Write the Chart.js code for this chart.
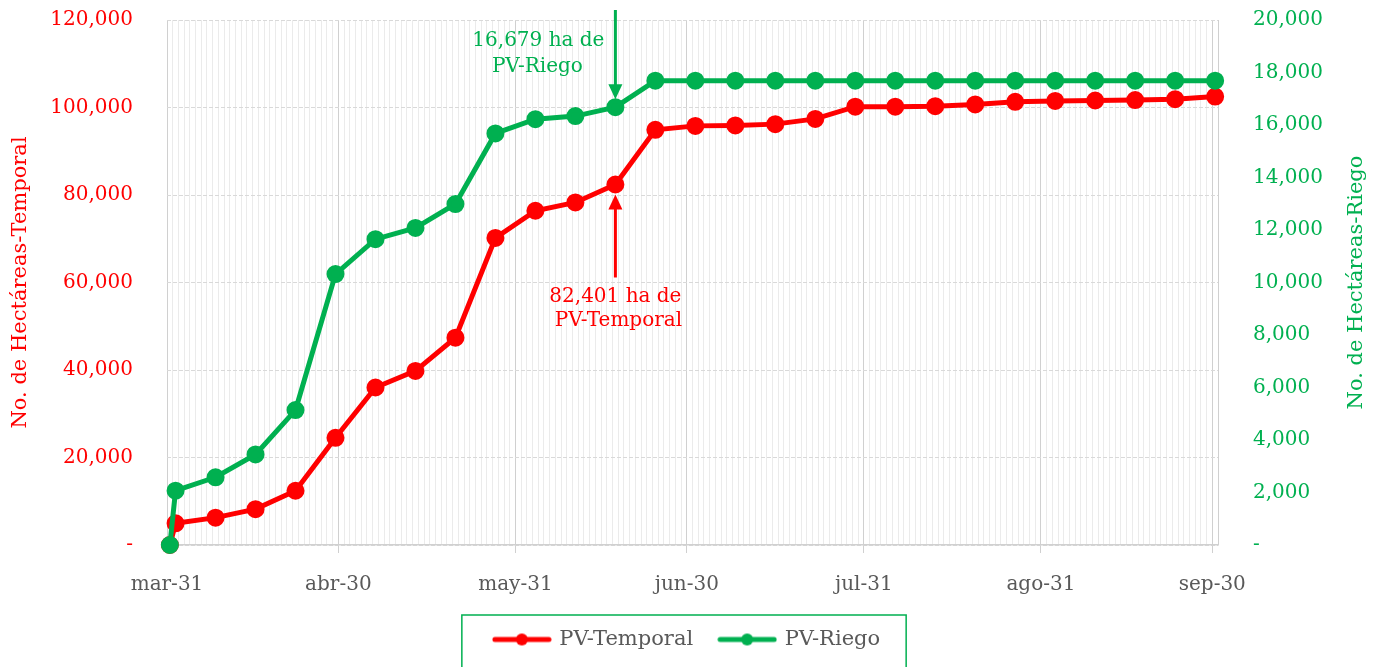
<!DOCTYPE html>
<html>
<head>
<meta charset="utf-8">
<script src="https://cdn.jsdelivr.net/npm/chart.js@4.4.1/dist/chart.umd.min.js"></script>
<style>
  html, body { margin: 0; padding: 0; background: #fff; }
</style>
</head>
<body>
<canvas id="chart" width="1375" height="667"></canvas>
<script>
// weekly readings (month-day), cumulative hectares
const dates = ['03-31', '04-01', '04-08', '04-15', '04-22', '04-29', '05-06', '05-13', '05-20', '05-27',
    '06-03', '06-10', '06-17', '06-24', '07-01', '07-08', '07-15', '07-22', '07-29', '08-05',
    '08-12', '08-19', '08-26', '09-02', '09-09', '09-16', '09-23', '09-30'];
const temporal = [0, 4950, 6250, 8200, 12400, 24500, 36000, 39800, 47400, 70200,
    76400, 78300, 82401, 94900, 95800, 95900, 96200, 97400, 100200, 100200,
    100300, 100700, 101300, 101500, 101600, 101700, 101900, 102500];
const riego = [0, 2070, 2580, 3450, 5140, 10320, 11650, 12080, 12990, 15680,
    16220, 16340, 16679, 17690, 17690, 17690, 17690, 17690, 17690, 17690,
    17690, 17690, 17690, 17690, 17690, 17690, 17690, 17690];
const tickDates = ['03-31', '04-30', '05-31', '06-30', '07-31', '08-31', '09-30'];
const tickLabels = ['mar-31', 'abr-30', 'may-31', 'jun-30', 'jul-31', 'ago-31', 'sep-30'];
const calloutDate = '06-17';

const RED = '#ff0000';
const GREEN = '#00b050';
const FONT = 'DejaVu Serif';

// days since the first date
function dayOf(md) {
    const [m, d] = md.split('-').map(Number);
    return Math.round((Date.UTC(2021, m - 1, d) - Date.UTC(2021, 2, 31)) / 86400000);
}
const lastDay = dayOf(dates[dates.length - 1]) + 1;
const labelByDay = {};
tickDates.forEach((d, i) => { labelByDay[dayOf(d)] = tickLabels[i]; });
const isMajor = v => v in labelByDay || v === lastDay;

// each point sits in the middle of its day
const toPoints = vals => vals.map((v, i) => ({ x: dayOf(dates[i]) + 0.5, y: v }));

function legendMark(color) {
    const c = document.createElement('canvas');
    c.width = 60; c.height = 14;
    const g = c.getContext('2d');
    g.strokeStyle = color; g.lineWidth = 5; g.lineCap = 'round';
    g.beginPath(); g.moveTo(3, 7); g.lineTo(57, 7); g.stroke();
    g.fillStyle = color;
    g.beginPath(); g.arc(30, 7, 6, 0, Math.PI * 2); g.fill();
    return c;
}
const legendMarks = [legendMark(RED), legendMark(GREEN)];

const calloutPlugin = {
    id: 'callouts',
    afterDatasetsDraw(chart) {
        const ctx = chart.ctx;
        const i = dates.indexOf(calloutDate);
        const r = chart.getDatasetMeta(0).data[i];
        const g = chart.getDatasetMeta(1).data[i];
        ctx.save();
        ctx.lineWidth = 3;
        ctx.font = '20px "' + FONT + '"';
        ctx.textAlign = 'center';
        ctx.textBaseline = 'middle';

        // green arrow pointing down
        ctx.strokeStyle = GREEN; ctx.fillStyle = GREEN;
        ctx.beginPath(); ctx.moveTo(g.x, chart.chartArea.top - 10); ctx.lineTo(g.x, g.y - 20); ctx.stroke();
        ctx.beginPath(); ctx.moveTo(g.x - 7, g.y - 23); ctx.lineTo(g.x + 7, g.y - 23); ctx.lineTo(g.x, g.y - 8); ctx.closePath(); ctx.fill();
        ctx.fillText(riego[i].toLocaleString('en-US') + ' ha de', g.x - 77, g.y - 66);
        ctx.fillText('PV-Riego', g.x - 78, g.y - 40);

        // red arrow pointing up
        ctx.strokeStyle = RED; ctx.fillStyle = RED;
        ctx.beginPath(); ctx.moveTo(r.x, r.y + 93); ctx.lineTo(r.x, r.y + 22); ctx.stroke();
        ctx.beginPath(); ctx.moveTo(r.x - 7, r.y + 25); ctx.lineTo(r.x + 7, r.y + 25); ctx.lineTo(r.x, r.y + 10); ctx.closePath(); ctx.fill();
        ctx.fillText(temporal[i].toLocaleString('en-US') + ' ha de', r.x, r.y + 112);
        ctx.fillText('PV-Temporal', r.x + 3, r.y + 136);

        // right axis title, reading bottom to top
        const yR = chart.scales.yR;
        ctx.fillStyle = GREEN;
        ctx.font = '21px "' + FONT + '"';
        ctx.translate(yR.right - 18, (chart.chartArea.top + chart.chartArea.bottom) / 2);
        ctx.rotate(-Math.PI / 2);
        ctx.fillText('No. de Hectáreas-Riego', 0, 0);
        ctx.restore();
    },
    afterDraw(chart) {
        // frame round the legend
        const boxes = chart.legend.legendHitBoxes;
        if (!boxes || !boxes.length) return;
        const first = boxes[0], last = boxes[boxes.length - 1];
        const ctx = chart.ctx;
        ctx.save();
        ctx.strokeStyle = GREEN;
        ctx.lineWidth = 1.5;
        const left = first.left - 33, right = last.left + last.width + 26;
        ctx.strokeRect(left, first.top - 14, right - left, chart.height);
        ctx.restore();
    }
};

new Chart(document.getElementById('chart'), {
    type: 'line',
    data: {
        datasets: [{
            label: 'PV-Temporal',
            data: toPoints(temporal),
            yAxisID: 'y',
            borderColor: RED,
            backgroundColor: RED,
            borderWidth: 5,
            pointRadius: 6.5,
            pointHoverRadius: 6.5,
            order: 1,
            clip: false
        }, {
            label: 'PV-Riego',
            data: toPoints(riego),
            yAxisID: 'yR',
            borderColor: GREEN,
            backgroundColor: GREEN,
            borderWidth: 5,
            pointRadius: 6.5,
            pointHoverRadius: 6.5,
            order: 0,
            clip: false
        }]
    },
    options: {
        responsive: false,
        animation: false,
        layout: { padding: { top: 20, bottom: 7 } },
        plugins: {
            tooltip: { enabled: false },
            legend: {
                position: 'bottom',
                labels: {
                    usePointStyle: true,
                    pointStyleWidth: 54,
                    padding: 27,
                    color: '#595959',
                    font: { family: FONT, size: 21 },
                    generateLabels(chart) {
                        return chart.data.datasets.map((ds, i) => ({
                            text: ds.label,
                            datasetIndex: i,
                            pointStyle: legendMarks[i],
                            fontColor: '#595959',
                            lineWidth: 0,
                            hidden: false
                        }));
                    }
                }
            }
        },
        scales: {
            x: {
                type: 'linear',
                min: 0,
                max: lastDay,
                afterBuildTicks(scale) {
                    scale.ticks = Array.from({ length: lastDay + 1 }, (_, v) => ({ value: v }));
                },
                afterFit(scale) { scale.height = 57; },
                ticks: {
                    autoSkip: false,
                    maxRotation: 0,
                    padding: 20,
                    color: '#595959',
                    font: { family: FONT, size: 20 },
                    callback: v => labelByDay[v] || ''
                },
                grid: {
                    color: c => isMajor(c.tick && c.tick.value) ? '#d0d0d0' : '#ebebeb',
                    tickColor: c => (c.tick && c.tick.value in labelByDay) ? '#d0d0d0' : 'rgba(0,0,0,0)',
                    tickLength: 8,
                    lineWidth: 1
                },
                border: { color: '#d0d0d0', width: 1.5 }
            },
            y: {
                position: 'left',
                min: 0,
                max: 120000,
                afterFit(scale) { scale.width = 167; },
                ticks: {
                    stepSize: 20000,
                    padding: 4,
                    color: RED,
                    font: { family: FONT, size: 20 },
                    callback: v => v === 0 ? '-' : v.toLocaleString('en-US')
                },
                grid: { color: '#d9d9d9', tickLength: 30, tickColor: 'rgba(0,0,0,0)' },
                border: { display: false, dash: [4, 2] },
                title: {
                    display: true,
                    text: 'No. de Hectáreas-Temporal',
                    color: RED,
                    font: { family: FONT, size: 21 },
                    padding: { top: 8, bottom: 0 }
                }
            },
            yR: {
                position: 'right',
                min: 0,
                max: 20000,
                afterFit(scale) { scale.width = 157; },
                ticks: {
                    stepSize: 2000,
                    padding: 4,
                    color: GREEN,
                    font: { family: FONT, size: 20 },
                    callback: v => v === 0 ? '-' : v.toLocaleString('en-US')
                },
                grid: { drawOnChartArea: false, tickLength: 31, tickColor: 'rgba(0,0,0,0)' },
                border: { display: false }
            }
        }
    },
    plugins: [calloutPlugin]
});
</script>
</body>
</html>
